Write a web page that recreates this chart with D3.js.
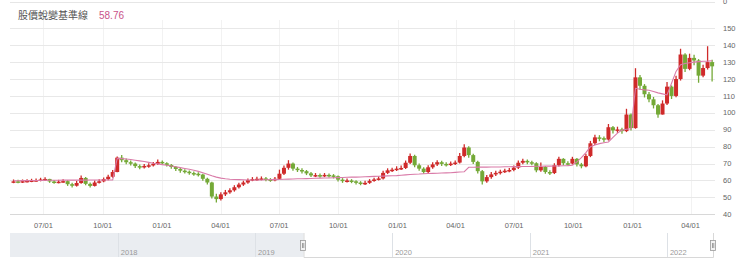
<!DOCTYPE html>
<html>
<head>
<meta charset="utf-8">
<script src="https://cdn.jsdelivr.net/npm/d3@7"></script>
<style>
  body { margin: 0; background: #fff; }
  svg { display: block; font-family: "Liberation Sans", Arial, sans-serif; }
</style>
</head>
<body>
<svg id="chart"></svg>
<script>
var width = 740, height = 276;

// weekly candles, week starting Monday
var weekStart = "2019-05-13";
var firstOpen = 59.2;
var closes = [59.5,59.2,59.6,59.8,60.0,60.2,60.6,60.9,59.4,59.0,59.3,59.6,57.8,56.9,58.5,61.5,58.0,56.8,58.8,59.5,
  60.8,62.2,65.0,73.5,72.0,70.8,70.0,68.5,67.8,68.6,69.0,69.8,71.0,70.2,69.2,68.0,66.8,65.8,65.2,64.4,
  64.0,63.5,61.0,58.8,50.5,49.0,51.8,53.0,54.2,56.0,57.6,58.8,60.2,60.8,61.0,61.2,60.6,60.3,61.0,64.0,
  67.5,70.0,67.0,66.2,65.5,64.2,63.0,63.2,62.8,63.3,63.0,62.5,60.5,59.8,60.0,59.5,58.8,58.3,58.6,59.8,
  60.6,61.2,64.5,66.0,66.4,67.0,67.4,70.5,74.5,69.0,67.0,65.0,67.8,69.5,70.8,69.8,69.4,70.0,70.6,74.5,
  79.5,75.0,71.0,65.5,59.5,62.0,63.6,64.5,65.2,65.8,66.2,67.6,70.5,71.6,70.8,70.2,66.0,68.0,65.0,64.4,
  69.0,72.8,70.2,70.0,72.8,69.5,68.4,74.5,82.0,85.5,85.0,84.2,91.5,89.6,90.2,89.2,99.0,91.0,121.0,116.0,
  111.0,108.0,104.5,99.0,105.5,115.5,110.0,120.0,134.5,126.0,132.5,131.0,122.0,126.5,130.0,127.5];
var highs = [60.6,60.4,60.6,60.8,61.0,61.2,61.6,61.9,61.0,60.3,60.4,60.8,60.2,58.6,59.8,63.0,62.0,58.8,60.0,60.7,
  61.8,63.4,66.2,74.2,75.0,73.0,71.8,70.6,69.4,69.8,70.2,71.0,72.4,71.8,70.8,69.8,68.6,67.4,66.7,65.9,
  65.3,64.8,64.0,61.6,59.2,52.2,53.0,54.4,55.4,57.2,58.6,59.9,61.2,62.0,62.2,62.4,62.0,61.4,62.0,66.4,
  68.9,72.0,70.6,68.0,67.2,66.2,65.0,64.4,64.2,64.4,64.2,63.8,63.0,61.4,61.2,60.8,60.2,59.6,59.8,60.8,
  61.6,62.4,65.8,67.2,67.6,68.4,68.8,71.8,76.0,75.2,70.0,67.8,69.0,70.8,72.0,71.6,70.8,71.2,71.8,76.2,
  81.4,80.2,75.8,71.6,66.2,63.2,65.0,65.8,66.4,67.0,67.4,68.8,71.8,72.8,72.4,71.6,70.8,70.6,68.6,66.0,
  70.2,74.0,73.2,71.4,74.0,73.3,70.4,75.8,83.4,87.0,86.8,86.0,93.4,92.2,91.8,91.2,102.4,99.6,126.4,122.4,
  117.0,112.4,109.4,105.2,107.4,118.2,116.2,121.9,137.9,135.2,135.0,134.4,131.8,128.4,139.4,131.4];
var lows = [58.4,58.3,58.5,58.8,59.0,59.2,59.5,59.8,58.6,58.0,58.3,58.6,56.8,55.8,56.4,58.0,57.2,55.8,56.5,58.2,
  58.9,60.2,61.6,64.8,70.8,69.6,68.8,67.4,66.6,67.1,67.6,68.3,69.2,69.2,68.2,67.0,65.6,64.6,64.1,63.4,
  62.8,62.4,59.8,57.6,49.4,47.0,48.2,50.8,52.2,53.4,55.2,56.8,58.1,59.6,59.8,60.1,59.6,59.2,59.6,60.4,
  63.2,66.4,65.8,65.0,64.2,63.2,62.0,62.0,61.6,62.0,61.8,61.2,59.4,58.6,58.8,58.4,57.6,57.2,57.4,58.0,
  59.2,60.0,60.6,63.8,65.0,65.6,66.2,66.8,69.8,67.8,65.8,64.0,64.4,67.0,68.6,68.6,68.2,68.6,69.2,70.0,
  73.8,73.4,69.8,64.2,57.6,58.6,61.0,62.6,63.6,64.4,64.8,65.4,66.8,69.6,69.6,69.0,64.8,65.2,64.0,63.2,
  63.8,68.2,69.0,68.8,69.4,68.2,67.2,67.8,73.8,81.0,83.2,82.6,83.6,87.8,88.2,87.6,88.6,89.6,90.6,113.6,
  109.1,106.2,102.6,97.1,99.0,104.6,108.2,109.2,119.1,124.1,125.2,128.2,117.8,121.0,125.6,118.6];
var baseline = [59.8,59.8,59.9,59.9,60.0,60.0,60.0,60.1,60.1,60.1,60.1,60.2,60.2,60.2,60.2,60.2,60.2,60.3,60.3,60.3,
  60.3,60.3,60.3,73.1,72.9,72.7,72.4,72.0,71.6,71.2,70.7,70.2,69.8,69.4,69.0,68.6,68.1,67.6,67.1,66.6,
  66.0,65.4,64.6,63.7,62.8,62.0,61.4,61.0,60.7,60.6,60.5,60.4,60.3,60.3,60.3,60.3,60.4,60.5,60.5,60.6,
  60.7,60.8,60.9,61.0,61.0,61.1,61.2,61.3,61.4,61.5,61.5,61.6,61.7,61.8,61.9,62.0,62.0,62.1,62.2,62.3,
  62.4,62.5,62.6,62.7,62.8,62.9,63.1,63.3,63.5,63.7,63.8,64.0,64.1,64.2,64.3,64.4,64.5,64.6,64.8,65.0,
  65.2,67.8,67.8,67.9,67.9,67.9,68.0,68.0,68.0,68.1,68.1,68.2,68.2,68.3,68.3,68.3,68.4,68.4,68.5,68.5,
  68.6,68.6,68.7,68.8,69.0,71.0,73.5,76.5,80.0,81.0,81.8,82.3,82.8,85.5,88.0,89.8,90.3,90.6,114.5,114.0,
  113.6,113.4,112.6,111.8,111.2,110.6,117.5,124.5,128.5,129.2,129.6,130.0,130.3,130.5,130.6,130.8];

var quarterTicks = ["2019-07-01","2019-10-01","2020-01-01","2020-04-01","2020-07-01","2020-10-01",
  "2021-01-01","2021-04-01","2021-07-01","2021-10-01","2022-01-01","2022-04-01"];
var yTicks = [40,50,60,70,80,90,100,110,120,130,140,150];
var navYears = ["2018","2019","2020","2021","2022"];
var legendLabel = "股價蛻變基準線";
var legendValue = "58.76";

var parse = d3.timeParse("%Y-%m-%d");
var upColor = "#cf2a2a", downColor = "#74a937", pink = "#d97ba8";

var weeks = closes.map(function(c, i) {
  return {
    date: d3.timeHour.offset(d3.timeMonday.offset(parse(weekStart), i), 60),
    open: i ? closes[i - 1] : firstOpen,
    high: highs[i], low: lows[i], close: c, base: baseline[i]
  };
});

var svg = d3.select("#chart").attr("width", width).attr("height", height);

var plotLeft = 10, plotRight = 715, plotTop = 28.3, plotBottom = 214.3;

var x = d3.scaleTime()
  .domain([new Date(2019, 4, 10), new Date(2022, 4, 9)])
  .range([plotLeft, plotRight]);
var y = d3.scaleLinear().domain([40, 150]).range([plotBottom, plotTop]);

// grid
svg.append("line").attr("x1", plotLeft).attr("x2", plotRight).attr("y1", 2.5).attr("y2", 2.5)
  .attr("stroke", "#e6e6e6");
svg.append("g").selectAll("line").data(quarterTicks.map(parse)).join("line")
  .attr("x1", d => Math.round(x(d)) + 0.5).attr("x2", d => Math.round(x(d)) + 0.5)
  .attr("y1", 20).attr("y2", plotBottom)
  .attr("stroke", "#f2f2f2");
svg.append("g").selectAll("line").data(yTicks.slice(1)).join("line")
  .attr("x1", plotLeft).attr("x2", plotRight)
  .attr("y1", d => Math.round(y(d)) + 0.5).attr("y2", d => Math.round(y(d)) + 0.5)
  .attr("stroke", "#e8e8e8");

// x axis
svg.append("line").attr("x1", plotLeft).attr("x2", plotRight)
  .attr("y1", Math.round(plotBottom) + 0.5).attr("y2", Math.round(plotBottom) + 0.5)
  .attr("stroke", "#d8d8d8");
svg.append("g").selectAll("text").data(quarterTicks.map(parse)).join("text")
  .attr("x", d => x(d)).attr("y", 228)
  .attr("text-anchor", "middle")
  .attr("font-size", "7.5px").attr("fill", "#666")
  .text(d3.timeFormat("%m/%d"));

// y labels
svg.append("g").selectAll("text").data(yTicks).join("text")
  .attr("x", 723).attr("y", d => y(d)).attr("dy", "0.35em")
  .attr("font-size", "7.5px").attr("fill", "#666")
  .text(d => d);
svg.append("text").attr("x", 723).attr("y", 4)
  .attr("font-size", "7.5px").attr("fill", "#666").text("0");

// candles
var candle = svg.append("g").selectAll("g").data(weeks).join("g")
  .attr("fill", d => d.close >= d.open ? upColor : downColor)
  .attr("stroke", d => d.close >= d.open ? upColor : downColor);
candle.append("line")
  .attr("x1", d => x(d.date)).attr("x2", d => x(d.date))
  .attr("y1", d => y(d.high)).attr("y2", d => y(d.low))
  .attr("stroke-width", 1.3);
candle.append("rect")
  .attr("x", d => x(d.date) - 2).attr("width", 4)
  .attr("y", d => y(Math.max(d.open, d.close)))
  .attr("height", d => Math.max(1.5, Math.abs(y(d.open) - y(d.close))))
  .attr("stroke", "none");

// baseline
svg.append("path").datum(weeks)
  .attr("fill", "none").attr("stroke", pink).attr("stroke-width", 1.1)
  .attr("d", d3.line().x(d => x(d.date)).y(d => y(d.base)));

// legend
svg.append("text").attr("x", 18).attr("y", 18.5)
  .attr("font-family", "'Noto Sans CJK TC', sans-serif")
  .attr("font-size", "10px").attr("fill", "#555").text(legendLabel);
svg.append("text").attr("x", 99).attr("y", 18.5)
  .attr("font-size", "10px").attr("fill", "#c9538a").text(legendValue);

// navigator
var nav = d3.scaleTime()
  .domain([new Date(2017, 2, 20), new Date(2022, 4, 9)])
  .range([plotLeft, plotRight]);
var navTop = 233, navBottom = 257;
var selStart = nav(x.domain()[0]);
svg.append("rect").attr("x", plotLeft).attr("y", navTop)
  .attr("width", selStart - plotLeft).attr("height", navBottom - navTop)
  .attr("fill", "#eaedf1");
svg.append("g").selectAll("line").data(navYears).join("line")
  .attr("x1", d => Math.round(nav(parse(d + "-01-01"))) + 0.5)
  .attr("x2", d => Math.round(nav(parse(d + "-01-01"))) + 0.5)
  .attr("y1", navTop).attr("y2", navBottom)
  .attr("stroke", "#dde1e6");
svg.append("g").selectAll("text").data(navYears).join("text")
  .attr("x", d => nav(parse(d + "-01-01")) + 3).attr("y", 254.5)
  .attr("font-size", "7.5px").attr("fill", "#999").text(d => d);
svg.append("path")
  .attr("d", "M" + (selStart + 0.5) + "," + navTop + "V" + (navBottom + 0.5) + "H" + (plotRight - 1.5) + "V" + navTop)
  .attr("fill", "none").attr("stroke", "#d8d8d8");
[selStart, plotRight - 2].forEach(function(hx) {
  var h = svg.append("g").attr("transform", "translate(" + Math.round(hx) + ",240)");
  h.append("rect").attr("x", -2.5).attr("y", 0.5).attr("width", 5).attr("height", 10)
    .attr("fill", "#f2f2f2").attr("stroke", "#999").attr("stroke-width", 0.8);
  h.append("line").attr("x1", -0.5).attr("x2", -0.5).attr("y1", 3).attr("y2", 8).attr("stroke", "#666").attr("stroke-width", 0.6);
  h.append("line").attr("x1", 0.8).attr("x2", 0.8).attr("y1", 3).attr("y2", 8).attr("stroke", "#666").attr("stroke-width", 0.6);
});
</script>
</body>
</html>
